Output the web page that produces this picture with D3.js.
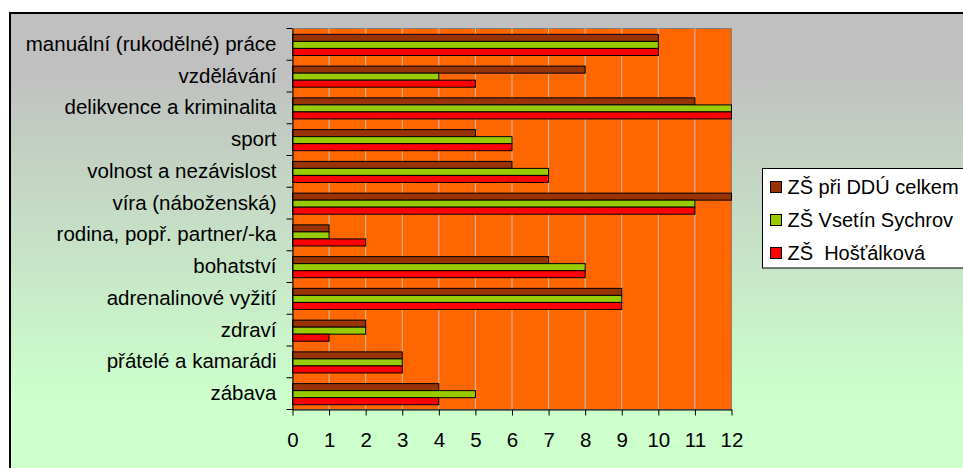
<!DOCTYPE html>
<html><head><meta charset="utf-8">
<script src="https://cdn.jsdelivr.net/npm/d3@7"></script>
<style>body{margin:0;background:#fff}svg{display:block}text{font-family:"Liberation Sans",Arial,sans-serif}</style>
</head><body><svg id="c" width="963" height="468"></svg>
<script>
const categories = ["manuální (rukodělné) práce","vzdělávání","delikvence a kriminalita","sport","volnost a nezávislost","víra (náboženská)","rodina, popř. partner/-ka","bohatství","adrenalinové vyžití","zdraví","přátelé a kamarádi","zábava"];
const seriesNames = ["ZŠ při DDÚ celkem","ZŠ Vsetín Sychrov","ZŠ  Hošťálková"];
const seriesColors = ["#993300","#99cc00","#ff0000"];
const celkem   = [10, 8, 11, 5, 6, 12, 1, 7, 9, 2, 3, 4];
const sychrov  = [10, 4, 12, 6, 7, 11, 1, 8, 9, 2, 3, 5];
const hostalkova = [10, 5, 12, 6, 7, 11, 2, 8, 9, 1, 3, 4];
const xTicks = [0,1,2,3,4,5,6,7,8,9,10,11,12];
const seriesValues = [celkem, sychrov, hostalkova];

const svg = d3.select("#c");
const defs = svg.append("defs");
const g = defs.append("linearGradient").attr("id","bg").attr("x1",0).attr("y1",0).attr("x2",0).attr("y2",1);
g.append("stop").attr("offset","0%").attr("stop-color","#c0c0c0");
g.append("stop").attr("offset","12%").attr("stop-color","#c0c0c0");
g.append("stop").attr("offset","80%").attr("stop-color","#ccffcc");
g.append("stop").attr("offset","100%").attr("stop-color","#ccffcc");

svg.append("rect").attr("x",10).attr("y",13).attr("width",980).attr("height",480)
  .attr("fill","url(#bg)").attr("stroke","#000").attr("stroke-width",2);

const L = 292.5, R = 731.5, T = 28.5, B = 409.5;
const x = d3.scaleLinear().domain([0,12]).range([L,R]);
const y = d3.scaleBand().domain(categories).range([T,B]).padding(0);
const yi = d3.scaleBand().domain(d3.range(3)).range([0,y.bandwidth()]).paddingInner(0).paddingOuter(0.76).align(0.55);

svg.append("rect").attr("x",L).attr("y",T).attr("width",R-L).attr("height",B-T).attr("fill","#ff6600")
  .attr("stroke","#808080").attr("stroke-width",1);

svg.append("g").selectAll("line").data(xTicks.slice(1,-1)).join("line")
  .attr("x1",d=>x(d)).attr("x2",d=>x(d)).attr("y1",T).attr("y2",B)
  .attr("stroke","#c0c0c0").attr("stroke-width",1);

const rows = [];
categories.forEach((c,i)=>seriesValues.forEach((vals,s)=>rows.push({c,s,v:vals[i]})));
svg.append("g").selectAll("rect").data(rows).join("rect")
  .attr("x",x(0)).attr("y",d=>y(d.c)+yi(d.s))
  .attr("width",d=>x(d.v)-x(0)).attr("height",yi.bandwidth())
  .attr("fill",d=>seriesColors[d.s]).attr("stroke","#000").attr("stroke-width",1);

// x axis
const xa = svg.append("g").attr("transform",`translate(0,${B})`)
  .call(d3.axisBottom(x).tickValues(xTicks).tickSize(6).tickPadding(17).tickSizeOuter(0));
xa.selectAll("text").attr("font-size","20.5px").attr("fill","#000").style("font-family","'Liberation Sans',Arial,sans-serif");
xa.selectAll("line,path").attr("stroke","#000");

// y axis: labels
const ya = svg.append("g").attr("transform",`translate(${L},0)`)
  .call(d3.axisLeft(y).tickSize(0).tickPadding(16));
ya.selectAll("text").attr("font-size","20.5px").attr("fill","#000").style("font-family","'Liberation Sans',Arial,sans-serif");
ya.select("path").attr("stroke","#000");
// boundary ticks
const bounds = categories.map(c=>y(c)).concat([B]);
svg.append("g").selectAll("line").data(bounds).join("line")
  .attr("x1",L-6).attr("x2",L).attr("y1",d=>d).attr("y2",d=>d).attr("stroke","#000");

// legend
const lg = svg.append("g");
lg.append("rect").attr("x",762.5).attr("y",168.5).attr("width",260).attr("height",99.5)
  .attr("fill","#fff").attr("stroke","#000").attr("stroke-width",1);
const items = lg.selectAll("g").data(seriesNames).join("g")
  .attr("transform",(d,i)=>`translate(770,${181+i*33})`);
items.append("rect").attr("x",0.5).attr("y",0.5).attr("width",11).attr("height",11)
  .attr("fill",(d,i)=>seriesColors[i]).attr("stroke","#000");
items.append("text").attr("x",17.5).attr("y",12.5).attr("font-size","20px").attr("fill","#000")
  .style("white-space","pre").text(d=>d);
</script></body></html>
